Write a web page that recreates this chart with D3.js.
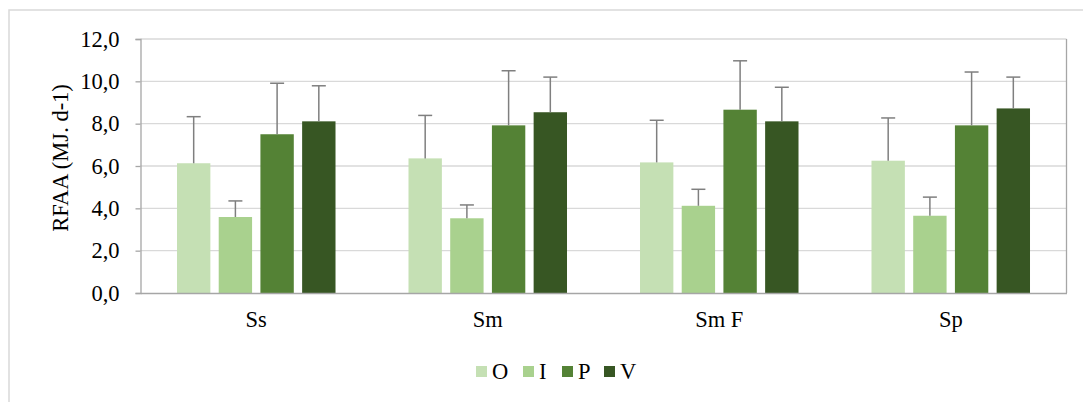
<!DOCTYPE html>
<html>
<head>
<meta charset="utf-8">
<script src="https://cdn.jsdelivr.net/npm/d3@7"></script>
<style>
  html, body { margin: 0; padding: 0; background: #fff; }
  svg { display: block; }
  text { font-family: "Liberation Serif", "Times New Roman", serif; fill: #000; }
</style>
</head>
<body>
<svg id="chart" width="1083" height="402"></svg>
<script>
// Categories, series and values
const categories = ["Ss", "Sm", "Sm F", "Sp"];
const seriesNames = ["O", "I", "P", "V"];
const seriesColors = ["#c5e0b4", "#a9d18e", "#548235", "#375623"];
const valuesO = [6.13, 6.36, 6.17, 6.25];
const valuesI = [3.59, 3.53, 4.12, 3.65];
const valuesP = [7.50, 7.92, 8.66, 7.92];
const valuesV = [8.11, 8.54, 8.11, 8.72];
const errO = [2.20, 2.03, 1.99, 2.02];
const errI = [0.76, 0.63, 0.78, 0.88];
const errP = [2.41, 2.58, 2.31, 2.52];
const errV = [1.68, 1.66, 1.61, 1.48];
const yTicks = [0, 2, 4, 6, 8, 10, 12];
const yTitle = "RFAA (MJ. d-1)";

const seriesValues = [valuesO, valuesI, valuesP, valuesV];
const seriesErrors = [errO, errI, errP, errV];

const fontSize = 22.5;
const svg = d3.select("#chart");

// outer chart frame (only left and top edges fall inside the view)
svg.append("rect")
  .attr("x", 9).attr("y", 10)
  .attr("width", 1200).attr("height", 500)
  .attr("fill", "#fff")
  .attr("stroke", "#d9d9d9").attr("stroke-width", 1.5);

const plot = { left: 140.5, right: 1066.5, top: 39, bottom: 293 };

const x0 = d3.scaleBand().domain(categories).range([plot.left, plot.right]).padding(0);
const x1 = d3.scaleBand().domain(seriesNames).range([0, x0.bandwidth()])
  .paddingInner(0.2).paddingOuter(0.875);
const y = d3.scaleLinear().domain([0, 12]).range([plot.bottom, plot.top]);

const commaLocale = d3.formatLocale({ decimal: ",", thousands: ".", grouping: [3], currency: ["", ""] });
const fmt = commaLocale.format(".1f");

// horizontal gridlines
svg.append("g")
  .selectAll("line")
  .data(yTicks.filter(t => t > 0))
  .join("line")
  .attr("x1", plot.left).attr("x2", plot.right)
  .attr("y1", d => y(d)).attr("y2", d => y(d))
  .attr("stroke", "#d9d9d9").attr("stroke-width", 1.3);

// right edge of plot area
svg.append("line")
  .attr("x1", plot.right).attr("x2", plot.right)
  .attr("y1", plot.top).attr("y2", plot.bottom)
  .attr("stroke", "#a6a6a6").attr("stroke-width", 1.3);

// bars
const rows = [];
categories.forEach((c, ci) => {
  seriesNames.forEach((s, si) => {
    rows.push({ cat: c, ser: s, si, value: seriesValues[si][ci], err: seriesErrors[si][ci] });
  });
});

svg.append("g")
  .selectAll("rect")
  .data(rows)
  .join("rect")
  .attr("x", d => x0(d.cat) + x1(d.ser))
  .attr("y", d => y(d.value))
  .attr("width", x1.bandwidth())
  .attr("height", d => y(0) - y(d.value))
  .attr("fill", d => seriesColors[d.si]);

// error bars (upper side only)
const eb = svg.append("g").attr("stroke", "#7f7f7f").attr("stroke-width", 1.5);
const capHalf = 7;
eb.selectAll("line.stem")
  .data(rows)
  .join("line")
  .attr("class", "stem")
  .attr("x1", d => x0(d.cat) + x1(d.ser) + x1.bandwidth() / 2)
  .attr("x2", d => x0(d.cat) + x1(d.ser) + x1.bandwidth() / 2)
  .attr("y1", d => y(d.value))
  .attr("y2", d => y(d.value + d.err));
eb.selectAll("line.cap")
  .data(rows)
  .join("line")
  .attr("class", "cap")
  .attr("x1", d => x0(d.cat) + x1(d.ser) + x1.bandwidth() / 2 - capHalf)
  .attr("x2", d => x0(d.cat) + x1(d.ser) + x1.bandwidth() / 2 + capHalf)
  .attr("y1", d => y(d.value + d.err))
  .attr("y2", d => y(d.value + d.err));

// y axis
const yAxis = svg.append("g")
  .attr("transform", `translate(${plot.left},0)`)
  .call(d3.axisLeft(y).tickValues(yTicks).tickFormat(fmt).tickSize(5).tickPadding(16));
yAxis.select(".domain").attr("stroke", "#a6a6a6").attr("stroke-width", 1.3);
yAxis.selectAll(".tick line").attr("stroke", "#a6a6a6").attr("stroke-width", 1.3);
yAxis.selectAll(".tick text")
  .attr("font-family", "Liberation Serif, serif")
  .attr("font-size", fontSize)
  .attr("fill", "#000");

// x axis
const xAxis = svg.append("g")
  .attr("transform", `translate(0,${plot.bottom})`)
  .call(d3.axisBottom(x0).tickSize(0).tickPadding(18));
xAxis.select(".domain").attr("stroke", "#a6a6a6").attr("stroke-width", 1.5);
xAxis.selectAll(".tick text")
  .attr("font-family", "Liberation Serif, serif")
  .attr("font-size", fontSize)
  .attr("fill", "#000");

// y axis title
svg.append("text")
  .attr("transform", `translate(68,${(plot.top + plot.bottom) / 2 - 8}) rotate(-90)`)
  .attr("text-anchor", "middle")
  .attr("font-size", fontSize)
  .text(yTitle);

// legend
const legendX = [476, 523, 562, 604];
const legend = svg.append("g")
  .selectAll("g")
  .data(seriesNames)
  .join("g")
  .attr("transform", (d, i) => `translate(${legendX[i]},366)`);
legend.append("rect")
  .attr("width", 11).attr("height", 11)
  .attr("fill", (d, i) => seriesColors[i]);
legend.append("text")
  .attr("x", 16).attr("y", 12.5)
  .attr("font-size", fontSize)
  .text(d => d);
</script>
</body>
</html>
